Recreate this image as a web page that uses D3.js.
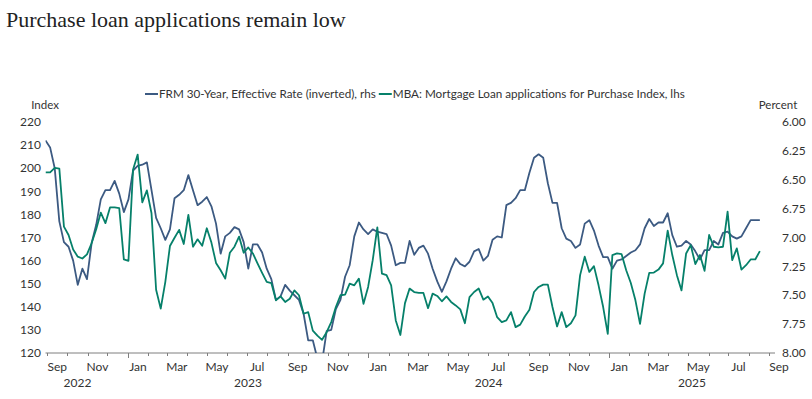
<!DOCTYPE html>
<html><head><meta charset="utf-8">
<script src="https://cdn.jsdelivr.net/npm/d3@7"></script>
<style>
html,body{margin:0;padding:0;background:#fff;}
svg{display:block;}
</style></head>
<body><svg id="chart" width="812" height="399"></svg>
<script>
// ---- data ----
const title = "Purchase loan applications remain low";
const seriesNames = ["FRM 30-Year, Effective Rate (inverted), rhs", "MBA: Mortgage Loan applications for Purchase Index, lhs"];
const firstWeek = "2022-08-29"; // weekly observations start
const rateValues = [
6.16,6.22,6.40,6.86,7.04,7.08,7.20,7.41,7.27,7.36,
7.05,6.89,6.67,6.59,6.59,6.51,6.62,6.78,6.67,6.42,
6.38,6.37,6.35,6.59,6.83,6.92,7.02,6.93,6.66,6.63,
6.59,6.46,6.59,6.72,6.69,6.65,6.73,6.88,7.14,6.99,
6.96,6.91,6.93,7.04,7.27,7.06,7.06,7.13,7.27,7.36,
7.54,7.51,7.41,7.46,7.50,7.54,7.66,7.89,7.89,8.05,
8.08,7.81,7.80,7.62,7.54,7.34,7.24,6.99,6.87,6.93,
6.97,6.93,6.95,6.96,6.97,7.07,7.24,7.22,7.22,7.03,
7.15,7.09,7.07,7.14,7.27,7.38,7.47,7.38,7.27,7.18,
7.23,7.25,7.21,7.12,7.10,7.20,7.16,7.02,6.99,7.00,
6.72,6.70,6.66,6.59,6.59,6.44,6.31,6.28,6.31,6.53,
6.70,6.70,6.92,7.01,7.03,7.09,7.06,6.88,6.85,6.94,
7.07,7.17,7.17,7.27,7.20,7.19,7.16,7.13,7.11,7.06,
6.92,6.84,6.90,6.87,6.87,6.79,6.98,7.08,7.07,7.03,
7.06,7.12,7.19,7.11,7.11,7.03,7.06,6.96,6.95,6.99,
7.01,6.99,6.92,6.85,6.85,6.85];
const purchaseValues = [
198.2,198.2,200.1,199.8,174.7,171.1,164.8,161.7,160.9,162.7,
167.5,173.6,180.8,176.2,183.0,183.0,182.7,160.5,159.9,199.4,
205.9,185.2,190.4,180.5,147.4,139.2,150.8,166.3,169.9,173.3,
167.2,179.8,166.0,169.2,166.4,174.0,167.8,159.0,155.8,152.2,
163.4,166.0,170.4,163.4,165.7,163.1,158.8,154.7,150.8,150.3,
142.8,144.5,142.1,143.5,147.1,145.0,137.0,137.7,129.7,127.5,
125.7,129.0,133.4,139.9,145.0,145.3,150.0,149.3,152.2,141.3,
148.6,160.2,174.4,154.4,153.7,149.3,134.1,127.8,141.6,147.9,
146.4,146.0,146.0,139.4,145.7,144.7,142.4,144.5,142.1,140.6,
138.9,132.9,144.2,146.4,147.9,143.1,144.5,141.6,135.5,133.4,
134.1,137.7,131.2,132.3,135.8,138.7,146.4,148.6,149.6,149.6,
139.9,131.5,137.7,131.2,132.9,136.3,153.7,161.7,155.1,157.6,
149.3,139.9,128.3,162.4,163.1,162.8,155.8,150.3,142.8,132.6,
145.7,154.7,154.8,156.1,158.8,173.0,162.4,153.7,147.1,163.1,
166.7,158.5,162.4,155.6,171.1,166.0,165.7,166.0,181.2,160.2,
165.3,156.1,158.0,160.5,160.5,164.1];
const leftTicks = [120,130,140,150,160,170,180,190,200,210,220];
const rightTicks = [6.00,6.25,6.50,6.75,7.00,7.25,7.50,7.75,8.00];
const axisStart = "2022-08-29", axisEnd = "2025-09-10";
const leftTitle = "Index", rightTitle = "Percent";

// ---- layout ----
const W = 812, H = 399;
const plot = {left: 45.5, right: 775, top: 122, bottom: 353};
const colors = {rate: "#3c5a82", purchase: "#06806a", text: "#333", axis: "#7f7f7f"};
const sans = "Lato, 'Open Sans', sans-serif";

const parse = d3.timeParse("%Y-%m-%d");
const t0 = parse(firstWeek);
const dates = rateValues.map((_, i) => d3.timeDay.offset(t0, 7 * i));

const x = d3.scaleTime().domain([parse(axisStart), parse(axisEnd)]).range([plot.left, plot.right]);
const yL = d3.scaleLinear().domain([120, 220]).range([plot.bottom, plot.top]);
const yR = d3.scaleLinear().domain([6, 8]).range([plot.top, plot.bottom]);

const svg = d3.select("#chart");
svg.append("rect").attr("width", W).attr("height", H).attr("fill", "#fff");

svg.append("text").attr("x", 6).attr("y", 27)
  .attr("font-family", "'Liberation Serif', 'DejaVu Serif', serif")
  .attr("font-size", 22).attr("fill", "#222").text(title);

// legend
const legend = svg.append("g").attr("font-family", sans).attr("font-size", 11.7).attr("fill", colors.text);
let lx = 145;
[[seriesNames[0], colors.rate], [seriesNames[1], colors.purchase]].forEach(([name, c]) => {
  legend.append("line").attr("x1", lx).attr("x2", lx + 13).attr("y1", 94).attr("y2", 94)
    .attr("stroke", c).attr("stroke-width", 2);
  const t = legend.append("text").attr("x", lx + 14).attr("y", 94).attr("dy", "0.35em").text(name);
  lx += 14 + t.node().getComputedTextLength() + 3;
});

// axis titles
svg.append("text").attr("x", 45).attr("y", 105).attr("dy", "0.35em").attr("text-anchor", "middle")
  .attr("font-family", sans).attr("font-size", 11.5).attr("fill", colors.text).text(leftTitle);
svg.append("text").attr("x", 778).attr("y", 105).attr("dy", "0.35em").attr("text-anchor", "middle")
  .attr("font-family", sans).attr("font-size", 11.5).attr("fill", colors.text).text(rightTitle);

// left tick labels
svg.append("g").selectAll("text").data(leftTicks).join("text")
  .attr("x", 41).attr("y", d => yL(d)).attr("dy", "0.35em").attr("text-anchor", "end")
  .attr("font-family", sans).attr("font-size", 12).attr("fill", colors.text).text(d => d);
// right tick labels
svg.append("g").selectAll("text").data(rightTicks).join("text")
  .attr("x", 782).attr("y", d => yR(d)).attr("dy", "0.35em").attr("text-anchor", "start")
  .attr("font-family", sans).attr("font-size", 12).attr("fill", colors.text).text(d => d3.format(".2f")(d));

// x axis line & ticks
svg.append("line").attr("x1", plot.left).attr("x2", plot.right).attr("y1", plot.bottom).attr("y2", plot.bottom)
  .attr("stroke", colors.axis).attr("stroke-width", 1);
const monthTicks = d3.timeMonth.range(d3.timeMonth.ceil(x.domain()[0]), x.domain()[1]);
svg.append("g").selectAll("line").data(monthTicks).join("line")
  .attr("x1", d => Math.round(x(d)) + 0.5).attr("x2", d => Math.round(x(d)) + 0.5)
  .attr("y1", plot.bottom).attr("y2", d => plot.bottom + (d.getMonth() === 0 ? 5 : 3))
  .attr("stroke", colors.axis).attr("stroke-width", 1);
// month labels (every other month)
const labelMonths = d3.timeMonth.range(d3.timeMonth.floor(x.domain()[0]), x.domain()[1]).filter(d => d.getMonth() % 2 === 0);
svg.append("g").selectAll("text").data(labelMonths).join("text")
  .attr("x", d => (x(d) + x(d3.timeMonth.offset(d, 1))) / 2).attr("y", 367).attr("dy", "0.35em")
  .attr("text-anchor", "middle").attr("font-family", sans).attr("font-size", 12).attr("fill", colors.text)
  .text(d3.timeFormat("%b"));
// year labels
const years = d3.range(x.domain()[0].getFullYear(), x.domain()[1].getFullYear() + 1);
svg.append("g").selectAll("text").data(years).join("text")
  .attr("x", yr => {
    const a = Math.max(x(new Date(yr, 0, 1)), x(d3.timeMonth.floor(x.domain()[0])));
    const b = Math.min(x(new Date(yr + 1, 0, 1)), plot.right);
    return (a + b) / 2;
  })
  .attr("y", 383).attr("dy", "0.35em").attr("text-anchor", "middle")
  .attr("font-family", sans).attr("font-size", 12).attr("fill", colors.text).text(d => d);

// clip
svg.append("clipPath").attr("id", "clip").append("rect")
  .attr("x", plot.left).attr("y", plot.top - 10).attr("width", plot.right - plot.left).attr("height", plot.bottom - plot.top + 10);

const gLines = svg.append("g").attr("clip-path", "url(#clip)");
gLines.append("path").datum(rateValues.map((v, i) => [dates[i], v]))
  .attr("fill", "none").attr("stroke", colors.rate).attr("stroke-width", 1.8).attr("stroke-linejoin", "round")
  .attr("d", d3.line().x(d => x(d[0])).y(d => yR(d[1])));
gLines.append("path").datum(purchaseValues.map((v, i) => [dates[i], v]))
  .attr("fill", "none").attr("stroke", colors.purchase).attr("stroke-width", 1.8).attr("stroke-linejoin", "round")
  .attr("d", d3.line().x(d => x(d[0])).y(d => yL(d[1])));
</script>
</body></html>
